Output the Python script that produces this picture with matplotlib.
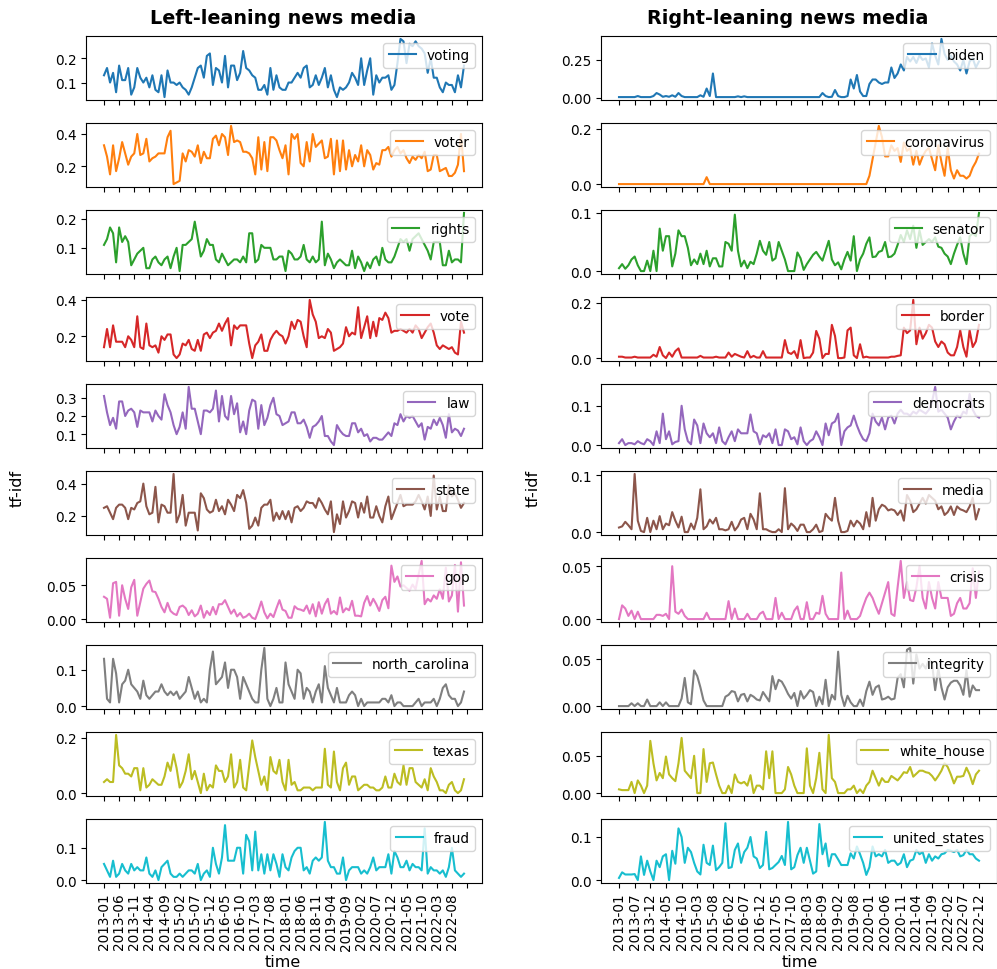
import matplotlib
matplotlib.use("Agg")
import matplotlib.pyplot as plt

# ---- tick labels (every 5th month) ----
left_ticklabels = ["2013-01", "2013-06", "2013-11", "2014-04", "2014-09", "2015-02",
                   "2015-07", "2015-12", "2016-05", "2016-10", "2017-03", "2017-08",
                   "2018-01", "2018-06", "2018-11", "2019-04", "2019-09", "2020-02",
                   "2020-07", "2020-12", "2021-05", "2021-10", "2022-03", "2022-08", ""]
right_ticklabels = ["2013-01", "2013-07", "2013-12", "2014-05", "2014-10", "2015-03",
                    "2015-08", "2016-02", "2016-07", "2016-12", "2017-05", "2017-10",
                    "2018-03", "2018-09", "2019-02", "2019-08", "2020-01", "2020-06",
                    "2020-11", "2021-04", "2021-09", "2022-02", "2022-07", "2022-12"]

left_terms = ["voting", "voter", "rights", "vote", "law",
              "state", "gop", "north_carolina", "texas", "fraud"]
right_terms = ["biden", "coronavirus", "senator", "border", "democrats",
               "media", "crisis", "integrity", "white_house", "united_states"]

# ---- left-leaning media, monthly tf-idf (120 months) ----
voting = [0.13, 0.16, 0.10, 0.14, 0.06, 0.17, 0.11, 0.11, 0.16, 0.05,
          0.08, 0.16, 0.12, 0.10, 0.12, 0.08, 0.13, 0.07, 0.06, 0.13,
          0.04, 0.15, 0.10, 0.10, 0.09, 0.10, 0.08, 0.07, 0.05, 0.08,
          0.12, 0.16, 0.17, 0.12, 0.21, 0.22, 0.09, 0.16, 0.15, 0.10,
          0.21, 0.08, 0.17, 0.17, 0.11, 0.14, 0.23, 0.16, 0.15, 0.13,
          0.12, 0.07, 0.07, 0.09, 0.05, 0.16, 0.07, 0.13, 0.08, 0.07,
          0.07, 0.10, 0.10, 0.12, 0.14, 0.12, 0.16, 0.17, 0.08, 0.09,
          0.13, 0.09, 0.12, 0.16, 0.08, 0.13, 0.07, 0.04, 0.08, 0.07,
          0.08, 0.10, 0.14, 0.12, 0.09, 0.20, 0.09, 0.15, 0.20, 0.05,
          0.13, 0.10, 0.12, 0.12, 0.13, 0.07, 0.09, 0.18, 0.28, 0.27,
          0.18, 0.26, 0.25, 0.27, 0.25, 0.24, 0.22, 0.14, 0.20, 0.12,
          0.12, 0.08, 0.06, 0.10, 0.09, 0.09, 0.06, 0.13, 0.08, 0.17]
voter = [0.33, 0.26, 0.15, 0.33, 0.17, 0.25, 0.35, 0.28, 0.21, 0.26,
         0.28, 0.40, 0.27, 0.28, 0.37, 0.23, 0.25, 0.26, 0.28, 0.28,
         0.28, 0.38, 0.42, 0.09, 0.10, 0.11, 0.28, 0.23, 0.30, 0.29,
         0.26, 0.33, 0.22, 0.29, 0.25, 0.25, 0.37, 0.39, 0.33, 0.40,
         0.38, 0.27, 0.45, 0.35, 0.36, 0.35, 0.29, 0.29, 0.28, 0.25,
         0.15, 0.38, 0.18, 0.35, 0.17, 0.38, 0.38, 0.36, 0.30, 0.25,
         0.33, 0.15, 0.40, 0.37, 0.40, 0.22, 0.20, 0.35, 0.23, 0.40,
         0.32, 0.34, 0.36, 0.25, 0.26, 0.37, 0.15, 0.36, 0.17, 0.36,
         0.18, 0.30, 0.20, 0.27, 0.23, 0.33, 0.20, 0.30, 0.27, 0.18,
         0.22, 0.21, 0.30, 0.30, 0.32, 0.26, 0.30, 0.32, 0.28, 0.30,
         0.25, 0.22, 0.26, 0.24, 0.27, 0.25, 0.29, 0.17, 0.18, 0.27,
         0.27, 0.17, 0.18, 0.19, 0.14, 0.14, 0.16, 0.21, 0.40, 0.17]
rights = [0.11, 0.13, 0.17, 0.15, 0.05, 0.17, 0.12, 0.14, 0.12, 0.04,
          0.06, 0.08, 0.09, 0.10, 0.03, 0.03, 0.06, 0.07, 0.05, 0.04,
          0.06, 0.07, 0.03, 0.07, 0.10, 0.02, 0.11, 0.11, 0.12, 0.13,
          0.19, 0.13, 0.07, 0.09, 0.13, 0.11, 0.11, 0.06, 0.05, 0.08,
          0.06, 0.04, 0.05, 0.06, 0.06, 0.05, 0.07, 0.05, 0.15, 0.15,
          0.05, 0.06, 0.11, 0.10, 0.10, 0.10, 0.06, 0.06, 0.07, 0.07,
          0.02, 0.09, 0.08, 0.06, 0.06, 0.07, 0.11, 0.06, 0.05, 0.07,
          0.05, 0.06, 0.19, 0.04, 0.08, 0.06, 0.03, 0.05, 0.06, 0.05,
          0.04, 0.04, 0.09, 0.03, 0.07, 0.05, 0.02, 0.05, 0.03, 0.06,
          0.07, 0.04, 0.10, 0.06, 0.05, 0.05, 0.07, 0.10, 0.13, 0.12,
          0.13, 0.09, 0.13, 0.14, 0.15, 0.13, 0.11, 0.09, 0.06, 0.12,
          0.12, 0.12, 0.04, 0.04, 0.09, 0.05, 0.06, 0.06, 0.05, 0.22]
vote = [0.14, 0.24, 0.14, 0.26, 0.17, 0.17, 0.17, 0.14, 0.20, 0.18,
        0.14, 0.31, 0.14, 0.13, 0.27, 0.15, 0.14, 0.15, 0.11, 0.20,
        0.18, 0.21, 0.21, 0.10, 0.08, 0.10, 0.16, 0.15, 0.18, 0.13,
        0.12, 0.18, 0.12, 0.21, 0.22, 0.19, 0.22, 0.23, 0.27, 0.23,
        0.27, 0.30, 0.15, 0.26, 0.24, 0.26, 0.26, 0.26, 0.16, 0.08,
        0.15, 0.17, 0.21, 0.12, 0.12, 0.18, 0.21, 0.23, 0.21, 0.20,
        0.16, 0.20, 0.28, 0.24, 0.29, 0.28, 0.20, 0.14, 0.40, 0.32,
        0.28, 0.19, 0.20, 0.19, 0.24, 0.22, 0.12, 0.13, 0.14, 0.16,
        0.25, 0.20, 0.22, 0.21, 0.36, 0.19, 0.25, 0.31, 0.19, 0.28,
        0.20, 0.30, 0.29, 0.33, 0.30, 0.22, 0.23, 0.23, 0.24, 0.23,
        0.22, 0.24, 0.22, 0.26, 0.24, 0.19, 0.22, 0.25, 0.27, 0.22,
        0.15, 0.13, 0.15, 0.14, 0.13, 0.14, 0.11, 0.10, 0.28, 0.22]
law = [0.31, 0.22, 0.15, 0.19, 0.13, 0.28, 0.28, 0.20, 0.23, 0.24,
       0.22, 0.14, 0.23, 0.22, 0.22, 0.22, 0.17, 0.23, 0.20, 0.18,
       0.32, 0.26, 0.22, 0.15, 0.10, 0.14, 0.22, 0.13, 0.36, 0.24,
       0.24, 0.17, 0.10, 0.23, 0.23, 0.22, 0.24, 0.34, 0.17, 0.31,
       0.20, 0.18, 0.31, 0.21, 0.27, 0.11, 0.17, 0.10, 0.23, 0.29,
       0.28, 0.13, 0.26, 0.15, 0.19, 0.26, 0.30, 0.21, 0.20, 0.15,
       0.16, 0.17, 0.22, 0.22, 0.16, 0.16, 0.18, 0.14, 0.08, 0.14,
       0.15, 0.17, 0.20, 0.09, 0.09, 0.06, 0.04, 0.15, 0.12, 0.10,
       0.09, 0.09, 0.16, 0.16, 0.11, 0.13, 0.09, 0.10, 0.06, 0.08,
       0.08, 0.07, 0.07, 0.09, 0.11, 0.09, 0.16, 0.15, 0.21, 0.17,
       0.20, 0.19, 0.20, 0.17, 0.14, 0.16, 0.07, 0.14, 0.13, 0.18,
       0.15, 0.19, 0.15, 0.08, 0.21, 0.11, 0.13, 0.12, 0.09, 0.13]
state = [0.25, 0.26, 0.22, 0.18, 0.25, 0.27, 0.27, 0.25, 0.18, 0.25,
         0.24, 0.28, 0.29, 0.40, 0.26, 0.21, 0.22, 0.38, 0.16, 0.27,
         0.26, 0.22, 0.22, 0.46, 0.16, 0.21, 0.33, 0.14, 0.22, 0.22,
         0.22, 0.11, 0.34, 0.31, 0.24, 0.22, 0.23, 0.30, 0.23, 0.26,
         0.21, 0.30, 0.27, 0.23, 0.33, 0.31, 0.36, 0.28, 0.12, 0.14,
         0.19, 0.14, 0.25, 0.27, 0.27, 0.30, 0.17, 0.22, 0.18, 0.23,
         0.18, 0.23, 0.16, 0.25, 0.26, 0.23, 0.25, 0.29, 0.28, 0.28,
         0.25, 0.31, 0.28, 0.24, 0.21, 0.29, 0.10, 0.21, 0.15, 0.29,
         0.19, 0.23, 0.29, 0.28, 0.19, 0.28, 0.22, 0.32, 0.19, 0.19,
         0.26, 0.20, 0.16, 0.26, 0.32, 0.18, 0.23, 0.28, 0.33, 0.26,
         0.27, 0.27, 0.27, 0.29, 0.33, 0.29, 0.24, 0.32, 0.20, 0.45,
         0.24, 0.32, 0.23, 0.23, 0.39, 0.32, 0.34, 0.30, 0.25, 0.28]
gop = [0.033, 0.030, 0.002, 0.053, 0.055, 0.005, 0.050, 0.030, 0.015, 0.047,
       0.058, 0.005, 0.025, 0.045, 0.052, 0.057, 0.041, 0.040, 0.030, 0.018,
       0.010, 0.024, 0.012, 0.008, 0.006, 0.018, 0.020, 0.016, 0.006, 0.013,
       0.004, 0.008, 0.020, 0.002, 0.012, 0.006, 0.018, 0.007, 0.022, 0.022,
       0.028, 0.018, 0.008, 0.014, 0.004, 0.009, 0.002, 0.004, 0.008, 0.002,
       0.000, 0.012, 0.026, 0.010, 0.001, 0.008, 0.003, 0.016, 0.028, 0.014,
       0.012, 0.002, 0.002, 0.019, 0.015, 0.014, 0.012, 0.020, 0.008, 0.022,
       0.004, 0.025, 0.008, 0.022, 0.030, 0.008, 0.012, 0.007, 0.032, 0.010,
       0.016, 0.013, 0.027, 0.005, 0.005, 0.004, 0.024, 0.034, 0.020, 0.030,
       0.022, 0.012, 0.028, 0.033, 0.016, 0.079, 0.055, 0.063, 0.048, 0.050,
       0.046, 0.042, 0.051, 0.044, 0.066, 0.086, 0.022, 0.030, 0.026, 0.035,
       0.030, 0.044, 0.030, 0.076, 0.026, 0.035, 0.080, 0.011, 0.084, 0.020]
north_carolina = [0.13, 0.02, 0.01, 0.13, 0.09, 0.01, 0.06, 0.07, 0.10, 0.06,
                  0.05, 0.04, 0.02, 0.07, 0.03, 0.02, 0.03, 0.04, 0.04, 0.06,
                  0.04, 0.03, 0.04, 0.03, 0.04, 0.02, 0.03, 0.04, 0.08, 0.05,
                  0.02, 0.04, 0.01, 0.02, 0.01, 0.10, 0.15, 0.06, 0.07, 0.08,
                  0.12, 0.05, 0.10, 0.10, 0.08, 0.02, 0.08, 0.06, 0.04, 0.02,
                  0.01, 0.01, 0.10, 0.16, 0.02, 0.00, 0.02, 0.05, 0.01, 0.01,
                  0.12, 0.06, 0.04, 0.02, 0.10, 0.09, 0.02, 0.05, 0.04, 0.01,
                  0.04, 0.06, 0.01, 0.11, 0.05, 0.03, 0.01, 0.05, 0.01, 0.01,
                  0.01, 0.03, 0.04, 0.03, 0.00, 0.02, 0.00, 0.01, 0.01, 0.01,
                  0.01, 0.01, 0.02, 0.02, 0.01, 0.03, 0.00, 0.01, 0.01, 0.00,
                  0.00, 0.00, 0.00, 0.01, 0.02, 0.00, 0.01, 0.01, 0.01, 0.02,
                  0.00, 0.02, 0.05, 0.06, 0.03, 0.02, 0.02, 0.00, 0.01, 0.04]
texas = [0.04, 0.05, 0.04, 0.04, 0.21, 0.10, 0.09, 0.07, 0.07, 0.06,
         0.09, 0.09, 0.01, 0.09, 0.02, 0.03, 0.05, 0.04, 0.03, 0.03,
         0.06, 0.11, 0.08, 0.14, 0.09, 0.02, 0.04, 0.08, 0.14, 0.05,
         0.08, 0.04, 0.00, 0.07, 0.01, 0.03, 0.02, 0.10, 0.08, 0.08,
         0.04, 0.06, 0.14, 0.02, 0.04, 0.12, 0.02, 0.01, 0.10, 0.19,
         0.13, 0.08, 0.03, 0.06, 0.01, 0.13, 0.08, 0.07, 0.12, 0.04,
         0.01, 0.12, 0.03, 0.04, 0.01, 0.01, 0.02, 0.02, 0.02, 0.01,
         0.02, 0.02, 0.02, 0.16, 0.03, 0.02, 0.15, 0.04, 0.01, 0.09,
         0.11, 0.03, 0.06, 0.06, 0.01, 0.02, 0.03, 0.03, 0.02, 0.02,
         0.01, 0.01, 0.02, 0.06, 0.02, 0.02, 0.07, 0.04, 0.03, 0.10,
         0.03, 0.09, 0.09, 0.04, 0.03, 0.02, 0.05, 0.01, 0.09, 0.06,
         0.04, 0.01, 0.01, 0.00, 0.03, 0.04, 0.01, 0.00, 0.01, 0.05]
fraud = [0.05, 0.03, 0.01, 0.06, 0.01, 0.02, 0.05, 0.03, 0.02, 0.05,
         0.03, 0.04, 0.03, 0.03, 0.07, 0.02, 0.01, 0.03, 0.00, 0.04,
         0.05, 0.06, 0.02, 0.01, 0.01, 0.02, 0.01, 0.02, 0.03, 0.03,
         0.02, 0.05, 0.00, 0.02, 0.03, 0.01, 0.10, 0.05, 0.02, 0.07,
         0.17, 0.06, 0.06, 0.06, 0.10, 0.10, 0.02, 0.14, 0.12, 0.03,
         0.15, 0.03, 0.08, 0.02, 0.08, 0.03, 0.08, 0.05, 0.01, 0.08,
         0.04, 0.03, 0.07, 0.09, 0.10, 0.10, 0.03, 0.04, 0.02, 0.06,
         0.07, 0.06, 0.07, 0.18, 0.06, 0.04, 0.04, 0.02, 0.02, 0.07,
         0.00, 0.03, 0.04, 0.04, 0.04, 0.02, 0.03, 0.02, 0.04, 0.07,
         0.03, 0.04, 0.04, 0.04, 0.08, 0.02, 0.09, 0.07, 0.04, 0.04,
         0.06, 0.03, 0.05, 0.04, 0.04, 0.03, 0.16, 0.02, 0.04, 0.03,
         0.03, 0.02, 0.03, 0.01, 0.04, 0.10, 0.03, 0.02, 0.01, 0.02]

# ---- right-leaning media, monthly tf-idf (116 months) ----
biden = [0.003, 0.003, 0.003, 0.003, 0.003, 0.003, 0.010, 0.003, 0.003, 0.003,
         0.003, 0.010, 0.030, 0.020, 0.005, 0.010, 0.005, 0.015, 0.005, 0.030,
         0.010, 0.003, 0.003, 0.003, 0.003, 0.003, 0.015, 0.005, 0.060, 0.010,
         0.160, 0.003, 0.003, 0.003, 0.003, 0.003, 0.003, 0.003, 0.008, 0.003,
         0.008, 0.003, 0.003, 0.003, 0.003, 0.003, 0.003, 0.003, 0.003, 0.003,
         0.003, 0.003, 0.003, 0.003, 0.003, 0.003, 0.003, 0.003, 0.003, 0.003,
         0.003, 0.003, 0.003, 0.003, 0.003, 0.030, 0.010, 0.003, 0.005, 0.050,
         0.010, 0.003, 0.003, 0.010, 0.120, 0.060, 0.150, 0.040, 0.010, 0.010,
         0.090, 0.120, 0.120, 0.100, 0.090, 0.100, 0.100, 0.200, 0.130, 0.160,
         0.220, 0.180, 0.270, 0.240, 0.270, 0.230, 0.280, 0.250, 0.260, 0.200,
         0.360, 0.280, 0.220, 0.390, 0.290, 0.250, 0.280, 0.240, 0.220, 0.180,
         0.250, 0.160, 0.240, 0.260, 0.200, 0.240]
coronavirus = [0.000, 0.000, 0.000, 0.000, 0.000, 0.000, 0.000, 0.000, 0.000, 0.000,
               0.000, 0.000, 0.000, 0.000, 0.000, 0.000, 0.000, 0.000, 0.000, 0.000,
               0.000, 0.000, 0.000, 0.000, 0.000, 0.000, 0.000, 0.000, 0.025, 0.000,
               0.000, 0.000, 0.000, 0.000, 0.000, 0.000, 0.000, 0.000, 0.000, 0.000,
               0.000, 0.000, 0.000, 0.000, 0.000, 0.000, 0.000, 0.000, 0.000, 0.000,
               0.000, 0.000, 0.000, 0.000, 0.000, 0.000, 0.000, 0.000, 0.000, 0.000,
               0.000, 0.000, 0.000, 0.000, 0.000, 0.000, 0.000, 0.000, 0.000, 0.000,
               0.000, 0.000, 0.000, 0.000, 0.000, 0.000, 0.000, 0.000, 0.000, 0.000,
               0.030, 0.090, 0.150, 0.210, 0.170, 0.100, 0.100, 0.140, 0.120, 0.130,
               0.080, 0.150, 0.120, 0.130, 0.070, 0.120, 0.070, 0.100, 0.120, 0.130,
               0.090, 0.050, 0.140, 0.080, 0.030, 0.130, 0.050, 0.020, 0.050, 0.030,
               0.030, 0.020, 0.030, 0.060, 0.080, 0.110]
senator = [0.005, 0.012, 0.004, 0.010, 0.020, 0.025, 0.010, 0.000, 0.000, 0.018,
           0.000, 0.035, 0.000, 0.073, 0.035, 0.060, 0.060, 0.008, 0.030, 0.070,
           0.060, 0.060, 0.040, 0.010, 0.020, 0.012, 0.030, 0.012, 0.035, 0.008,
           0.022, 0.022, 0.008, 0.008, 0.050, 0.047, 0.035, 0.097, 0.035, 0.008,
           0.018, 0.005, 0.016, 0.012, 0.030, 0.052, 0.035, 0.028, 0.050, 0.018,
           0.022, 0.050, 0.035, 0.020, 0.000, 0.000, 0.000, 0.032, 0.022, 0.002,
           0.012, 0.020, 0.028, 0.033, 0.025, 0.018, 0.035, 0.052, 0.020, 0.010,
           0.015, 0.003, 0.020, 0.033, 0.018, 0.060, 0.000, 0.020, 0.030, 0.047,
           0.058, 0.024, 0.025, 0.033, 0.035, 0.050, 0.024, 0.025, 0.030, 0.045,
           0.062, 0.050, 0.070, 0.055, 0.078, 0.040, 0.070, 0.045, 0.050, 0.055,
           0.050, 0.058, 0.042, 0.040, 0.030, 0.025, 0.012, 0.030, 0.045, 0.058,
           0.030, 0.012, 0.060, 0.065, 0.060, 0.100]
border = [0.005, 0.005, 0.002, 0.002, 0.002, 0.005, 0.002, 0.002, 0.002, 0.002,
          0.002, 0.012, 0.005, 0.040, 0.010, 0.000, 0.020, 0.005, 0.025, 0.035,
          0.002, 0.002, 0.002, 0.002, 0.002, 0.002, 0.008, 0.002, 0.002, 0.002,
          0.002, 0.005, 0.002, 0.002, 0.002, 0.020, 0.005, 0.015, 0.010, 0.005,
          0.002, 0.025, 0.002, 0.008, 0.002, 0.002, 0.025, 0.002, 0.002, 0.002,
          0.002, 0.002, 0.002, 0.065, 0.020, 0.015, 0.025, 0.000, 0.065, 0.000,
          0.002, 0.002, 0.020, 0.098, 0.070, 0.000, 0.015, 0.015, 0.120, 0.080,
          0.000, 0.000, 0.002, 0.100, 0.110, 0.010, 0.000, 0.050, 0.002, 0.005,
          0.002, 0.002, 0.002, 0.002, 0.002, 0.002, 0.002, 0.005, 0.005, 0.008,
          0.010, 0.110, 0.090, 0.100, 0.210, 0.050, 0.110, 0.070, 0.090, 0.120,
          0.110, 0.060, 0.040, 0.060, 0.050, 0.020, 0.010, 0.010, 0.040, 0.100,
          0.040, 0.005, 0.100, 0.040, 0.060, 0.120]
democrats = [0.005, 0.015, 0.000, 0.005, 0.005, 0.002, 0.010, 0.005, 0.002, 0.015,
             0.010, 0.000, 0.035, 0.005, 0.080, 0.015, 0.035, 0.002, 0.008, 0.010,
             0.100, 0.040, 0.010, 0.002, 0.065, 0.050, 0.005, 0.055, 0.030, 0.020,
             0.030, 0.005, 0.045, 0.010, 0.002, 0.020, 0.035, 0.010, 0.040, 0.030,
             0.030, 0.030, 0.078, 0.035, 0.030, 0.002, 0.025, 0.020, 0.030, 0.005,
             0.040, 0.000, 0.000, 0.040, 0.035, 0.015, 0.020, 0.002, 0.045, 0.010,
             0.000, 0.010, 0.015, 0.035, 0.020, 0.000, 0.055, 0.025, 0.055, 0.060,
             0.080, 0.000, 0.035, 0.045, 0.050, 0.075, 0.050, 0.030, 0.015, 0.010,
             0.030, 0.080, 0.060, 0.050, 0.070, 0.040, 0.070, 0.075, 0.055, 0.080,
             0.090, 0.080, 0.080, 0.075, 0.085, 0.080, 0.090, 0.085, 0.080, 0.090,
             0.110, 0.148, 0.085, 0.090, 0.080, 0.070, 0.040, 0.060, 0.075, 0.070,
             0.085, 0.080, 0.130, 0.090, 0.075, 0.070]
media = [0.008, 0.010, 0.018, 0.012, 0.005, 0.102, 0.020, 0.002, 0.000, 0.025,
         0.000, 0.020, 0.005, 0.028, 0.005, 0.015, 0.012, 0.035, 0.020, 0.008,
         0.027, 0.000, 0.000, 0.015, 0.005, 0.025, 0.075, 0.005, 0.010, 0.022,
         0.015, 0.025, 0.005, 0.005, 0.003, 0.005, 0.018, 0.003, 0.010, 0.022,
         0.025, 0.005, 0.032, 0.022, 0.005, 0.068, 0.005, 0.005, 0.002, 0.000,
         0.000, 0.005, 0.000, 0.077, 0.005, 0.015, 0.010, 0.002, 0.013, 0.013,
         0.000, 0.000, 0.005, 0.013, 0.000, 0.002, 0.032, 0.025, 0.020, 0.060,
         0.020, 0.000, 0.000, 0.002, 0.020, 0.010, 0.020, 0.015, 0.005, 0.035,
         0.010, 0.060, 0.020, 0.040, 0.048, 0.045, 0.038, 0.040, 0.038, 0.030,
         0.038, 0.020, 0.065, 0.055, 0.035, 0.040, 0.050, 0.060, 0.050, 0.065,
         0.060, 0.055, 0.040, 0.045, 0.030, 0.035, 0.045, 0.030, 0.045, 0.040,
         0.038, 0.035, 0.045, 0.060, 0.022, 0.040]
crisis = [0.000, 0.013, 0.010, 0.003, 0.008, 0.000, 0.007, 0.000, 0.000, 0.000,
          0.000, 0.000, 0.004, 0.004, 0.003, 0.005, 0.000, 0.050, 0.007, 0.005,
          0.009, 0.003, 0.000, 0.000, 0.000, 0.000, 0.000, 0.000, 0.006, 0.000,
          0.000, 0.000, 0.000, 0.000, 0.000, 0.017, 0.000, 0.010, 0.000, 0.000,
          0.000, 0.005, 0.000, 0.000, 0.000, 0.005, 0.007, 0.000, 0.000, 0.000,
          0.020, 0.000, 0.006, 0.000, 0.000, 0.000, 0.008, 0.012, 0.000, 0.000,
          0.016, 0.000, 0.000, 0.006, 0.005, 0.022, 0.005, 0.000, 0.000, 0.000,
          0.000, 0.044, 0.000, 0.008, 0.000, 0.000, 0.000, 0.003, 0.012, 0.020,
          0.025, 0.020, 0.012, 0.005, 0.015, 0.025, 0.035, 0.005, 0.003, 0.030,
          0.055, 0.020, 0.035, 0.018, 0.017, 0.030, 0.050, 0.020, 0.010, 0.035,
          0.020, 0.010, 0.035, 0.020, 0.020, 0.020, 0.003, 0.005, 0.015, 0.020,
          0.010, 0.010, 0.015, 0.048, 0.020, 0.045]
integrity = [0.000, 0.000, 0.000, 0.000, 0.003, 0.000, 0.003, 0.000, 0.000, 0.007,
             0.000, 0.000, 0.000, 0.004, 0.000, 0.004, 0.000, 0.000, 0.000, 0.000,
             0.008, 0.030, 0.004, 0.002, 0.038, 0.032, 0.020, 0.006, 0.000, 0.000,
             0.000, 0.000, 0.000, 0.000, 0.010, 0.012, 0.016, 0.015, 0.005, 0.012,
             0.013, 0.005, 0.012, 0.010, 0.007, 0.006, 0.015, 0.010, 0.005, 0.032,
             0.018, 0.028, 0.026, 0.020, 0.013, 0.008, 0.014, 0.000, 0.016, 0.008,
             0.012, 0.017, 0.015, 0.000, 0.010, 0.002, 0.028, 0.000, 0.012, 0.007,
             0.058, 0.012, 0.000, 0.011, 0.004, 0.000, 0.000, 0.007, 0.000, 0.016,
             0.026, 0.012, 0.020, 0.022, 0.007, 0.008, 0.010, 0.007, 0.008, 0.030,
             0.034, 0.020, 0.060, 0.062, 0.024, 0.055, 0.040, 0.045, 0.040, 0.050,
             0.045, 0.017, 0.040, 0.020, 0.007, 0.020, 0.025, 0.027, 0.027, 0.022,
             0.012, 0.038, 0.010, 0.022, 0.017, 0.017]
white_house = [0.005, 0.004, 0.004, 0.004, 0.015, 0.000, 0.017, 0.010, 0.000, 0.010,
               0.070, 0.040, 0.017, 0.027, 0.020, 0.049, 0.025, 0.020, 0.016, 0.040,
               0.074, 0.030, 0.025, 0.020, 0.050, 0.000, 0.000, 0.059, 0.015, 0.040,
               0.041, 0.025, 0.010, 0.000, 0.000, 0.010, 0.000, 0.025, 0.015, 0.013,
               0.015, 0.010, 0.024, 0.000, 0.010, 0.010, 0.005, 0.056, 0.020, 0.056,
               0.000, 0.000, 0.000, 0.005, 0.035, 0.025, 0.010, 0.000, 0.000, 0.000,
               0.060, 0.010, 0.000, 0.020, 0.054, 0.005, 0.000, 0.078, 0.020, 0.015,
               0.000, 0.000, 0.000, 0.005, 0.005, 0.010, 0.000, 0.005, 0.000, 0.010,
               0.015, 0.030, 0.020, 0.010, 0.020, 0.015, 0.015, 0.023, 0.020, 0.017,
               0.022, 0.028, 0.027, 0.035, 0.022, 0.026, 0.030, 0.030, 0.028, 0.027,
               0.023, 0.017, 0.023, 0.030, 0.040, 0.035, 0.025, 0.013, 0.022, 0.022,
               0.023, 0.034, 0.025, 0.012, 0.025, 0.030]
united_states = [0.005, 0.018, 0.013, 0.013, 0.013, 0.014, 0.000, 0.055, 0.012, 0.045,
                 0.020, 0.000, 0.045, 0.030, 0.055, 0.060, 0.000, 0.068, 0.038, 0.120,
                 0.100, 0.040, 0.075, 0.065, 0.040, 0.020, 0.013, 0.082, 0.040, 0.035,
                 0.080, 0.023, 0.030, 0.040, 0.132, 0.028, 0.030, 0.070, 0.085, 0.040,
                 0.065, 0.075, 0.100, 0.055, 0.050, 0.028, 0.035, 0.112, 0.025, 0.028,
                 0.035, 0.042, 0.056, 0.035, 0.135, 0.025, 0.030, 0.058, 0.075, 0.040,
                 0.075, 0.045, 0.015, 0.020, 0.130, 0.060, 0.085, 0.032, 0.060, 0.060,
                 0.048, 0.035, 0.035, 0.035, 0.062, 0.050, 0.078, 0.060, 0.040, 0.012,
                 0.030, 0.078, 0.055, 0.060, 0.055, 0.070, 0.040, 0.045, 0.045, 0.035,
                 0.040, 0.060, 0.030, 0.045, 0.048, 0.070, 0.060, 0.065, 0.040, 0.060,
                 0.045, 0.055, 0.050, 0.060, 0.062, 0.070, 0.068, 0.065, 0.070, 0.055,
                 0.058, 0.070, 0.060, 0.060, 0.050, 0.045]

left_series = [voting, voter, rights, vote, law, state, gop, north_carolina, texas, fraud]
right_series = [biden, coronavirus, senator, border, democrats,
                media, crisis, integrity, white_house, united_states]

FONT = 9.8
plt.rcParams['font.size'] = FONT

W, H = 997, 970


def draw_column(fig, x0, terms, series, ticklabels):
    """Stack of 10 small line panels sharing a monthly axis."""
    n_ticks = len(ticklabels)
    for k, (term, vals) in enumerate(zip(terms, series)):
        top = 37 + 87 * k
        ax = fig.add_axes([x0 / W, 1 - (top + 64) / H, 396 / W, 64 / H])
        ax.plot(range(len(vals)), vals, color=f"C{k}", label=term)
        ax.legend(loc="upper right", fontsize=FONT)
        ax.set_xticks(range(0, 5 * n_ticks, 5))
        if k == len(terms) - 1:
            ax.set_xticklabels(ticklabels, rotation=90)
        else:
            ax.set_xticklabels([])
        ax.tick_params(labelsize=FONT)


fig = plt.figure(figsize=(W / 100, H / 100), dpi=100)

draw_column(fig, 86, left_terms, left_series, left_ticklabels)
draw_column(fig, 601, right_terms, right_series, right_ticklabels)

# column titles and shared labels
fig.text(283 / W, 1 - 18 / H, "Left-leaning news media", ha="center", va="center",
         fontsize=13.8, fontweight="bold")
fig.text(788 / W, 1 - 18 / H, "Right-leaning news media", ha="center", va="center",
         fontsize=13.8, fontweight="bold")
fig.text(17 / W, 1 - 488 / H, "tf-idf", rotation=90, ha="center", va="center", fontsize=11.5)
fig.text(533 / W, 1 - 488 / H, "tf-idf", rotation=90, ha="center", va="center", fontsize=11.5)
fig.text(283 / W, 1 - 963 / H, "time", ha="center", va="center", fontsize=11.5)
fig.text(800 / W, 1 - 963 / H, "time", ha="center", va="center", fontsize=11.5)

fig.savefig("out.png", dpi=100)
